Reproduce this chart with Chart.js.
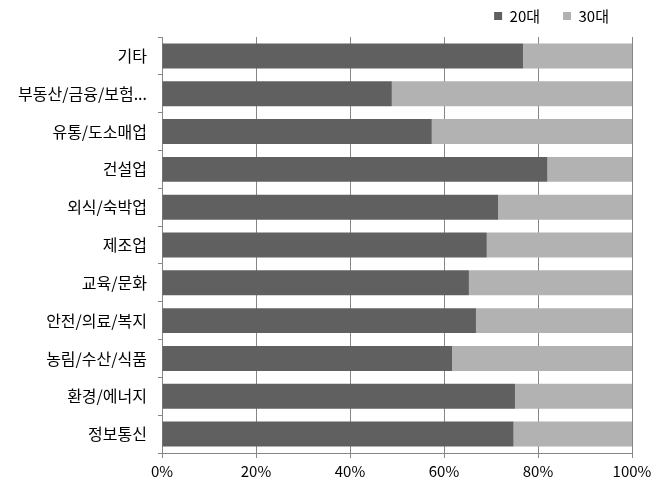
<!DOCTYPE html>
<html>
<head>
<meta charset="utf-8">
<script src="https://cdn.jsdelivr.net/npm/chart.js@4/dist/chart.umd.min.js"></script>
<style>
  html, body { margin: 0; padding: 0; background: #fff; }
  #wrap { width: 663px; height: 491px; }
</style>
</head>
<body>
<div id="wrap"><canvas id="c" width="663" height="491"></canvas></div>
<script>
const categories = ['기타', '부동산/금융/보험...', '유통/도소매업', '건설업', '외식/숙박업', '제조업', '교육/문화', '안전/의료/복지', '농림/수산/식품', '환경/에너지', '정보통신'];
const seriesNames = ['20대', '30대'];
const values20 = [76.8, 48.9, 57.4, 82.0, 71.5, 69.1, 65.3, 66.8, 61.7, 75.1, 74.8];
const values30 = [23.2, 51.1, 42.6, 18.0, 28.5, 30.9, 34.7, 33.2, 38.3, 24.9, 25.2];
const xTicks = [0, 20, 40, 60, 80, 100];

const FONT = '"Noto Sans CJK KR", "Noto Sans", sans-serif';
const gridColor = '#868686';
const LEGEND_PAD = 23;

const legendFix = {
  id: 'legendFix',
  beforeLayout(chart) {
    const lg = chart.legend;
    if (lg && !lg._patched) {
      const f = lg.fit;
      lg.fit = function () { f.call(this); this.height = 37; };
      lg._patched = true;
    }
  },
  afterLayout(chart) {
    if (chart.legend) chart.legend.top = 8.5 - LEGEND_PAD;
  }
};

new Chart(document.getElementById('c'), {
  type: 'bar',
  data: {
    labels: categories,
    datasets: [
      { label: seriesNames[0], data: values20, backgroundColor: '#606060', borderWidth: 0,
        barPercentage: 0.66, categoryPercentage: 1 },
      { label: seriesNames[1], data: values30, backgroundColor: '#b2b2b2', borderWidth: 0,
        barPercentage: 0.66, categoryPercentage: 1 }
    ]
  },
  plugins: [legendFix],
  options: {
    indexAxis: 'y',
    responsive: false,
    animation: false,
    devicePixelRatio: 1,
    layout: { padding: { left: 0, right: 31, top: 0, bottom: 0 } },
    plugins: {
      legend: {
        position: 'top',
        align: 'end',
        labels: {
          boxWidth: 8, boxHeight: 8, padding: LEGEND_PAD,
          color: '#000',
          font: { family: FONT, size: 15 }
        }
      },
      tooltip: { enabled: false }
    },
    scales: {
      x: {
        stacked: true,
        min: 0, max: 100,
        afterBuildTicks: (axis) => { axis.ticks = xTicks.map(v => ({ value: v })); },
        afterFit: (axis) => { axis.height = 38; },
        ticks: {
          color: '#000',
          font: { family: FONT, size: 15 },
          padding: 4,
          callback: (v) => v + '%'
        },
        grid: { color: gridColor, lineWidth: 1, drawTicks: true, tickLength: 5, tickColor: gridColor },
        border: { color: gridColor, width: 1 }
      },
      y: {
        stacked: true,
        afterFit: (axis) => { axis.width = 162; },
        ticks: {
          color: '#000',
          font: { family: FONT, size: 16 },
          padding: 11
        },
        grid: { offset: true, drawOnChartArea: false, drawTicks: true, tickLength: 4, color: gridColor },
        border: { color: gridColor, width: 1 }
      }
    }
  }
});
</script>
</body>
</html>
